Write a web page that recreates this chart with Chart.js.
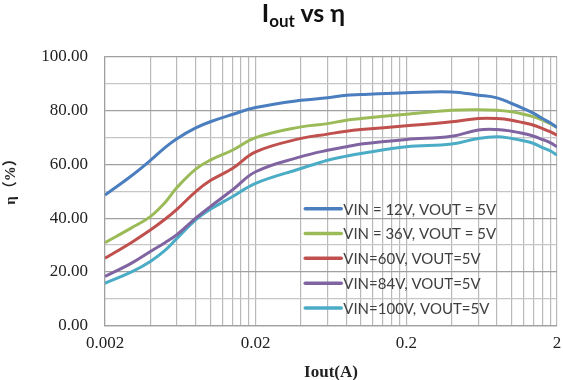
<!DOCTYPE html>
<html><head><meta charset="utf-8">
<script src="https://cdn.jsdelivr.net/npm/chart.js@4.4.1/dist/chart.umd.min.js"></script>
<style>
html,body{margin:0;padding:0;background:#fff;}
#wrap{position:relative;width:563px;height:380px;overflow:hidden;}
canvas{position:absolute;left:0;top:0;}
#title{position:absolute;left:0;width:607px;top:-3px;text-align:center;font-family:Lato,sans-serif;font-weight:bold;font-size:25px;line-height:30px;color:#111;}
#title sub{font-size:17px;vertical-align:-5px;line-height:0;}
</style></head><body>
<div id="wrap"><canvas id="c" width="563" height="380"></canvas><div id="title">I<sub>out</sub> vs η</div></div>
<script>
const xValues = [0.002, 0.003, 0.004, 0.005, 0.006, 0.008, 0.01, 0.014, 0.02, 0.04, 0.06, 0.08, 0.1, 0.2, 0.4, 0.6, 0.8, 1.0, 1.2, 1.4, 1.6, 1.8, 2.0];
const vin12  = [48.6, 55.8, 61.5, 66.3, 69.6, 73.6, 75.9, 78.6, 81.2, 83.9, 84.8, 85.8, 86.0, 86.7, 87.0, 85.8, 84.8, 82.7, 80.8, 79.0, 77.1, 75.5, 73.8];
const vin36  = [30.9, 36.4, 40.6, 45.8, 51.4, 58.3, 61.6, 65.3, 70.0, 74.0, 75.2, 76.5, 77.1, 78.7, 80.2, 80.4, 80.2, 79.6, 78.7, 77.7, 76.5, 75.2, 73.8];
const vin60  = [25.1, 31.0, 35.6, 39.6, 43.3, 49.9, 54.0, 58.5, 64.7, 69.7, 71.3, 72.4, 73.0, 74.4, 75.9, 77.1, 77.1, 76.5, 75.5, 74.6, 73.4, 72.2, 70.9];
const vin84  = [18.3, 23.3, 27.6, 30.9, 33.9, 40.0, 44.3, 50.5, 57.3, 62.9, 65.3, 66.6, 67.6, 69.3, 70.5, 72.8, 73.0, 72.4, 71.5, 70.5, 69.3, 68.1, 66.6];
const vin100 = [15.8, 20.0, 23.9, 28.0, 32.5, 39.4, 43.3, 48.0, 53.0, 58.5, 61.6, 63.1, 64.1, 66.6, 67.6, 69.7, 70.3, 69.7, 68.8, 67.8, 66.3, 65.1, 63.5];
const seriesLabels = ['VIN = 12V, VOUT = 5V', 'VIN = 36V, VOUT = 5V', 'VIN=60V, VOUT=5V', 'VIN=84V, VOUT=5V', 'VIN=100V, VOUT=5V'];
const seriesColors = ['#4A7EBF', '#9BBB59', '#C0504D', '#8064A2', '#4BACC6'];
const xMajorTicks = [0.002, 0.02, 0.2, 2];
const xTickLabels = ['0.002', '0.02', '0.2', '2'];
const yTickStep = 10;
const yLabelStep = 20;
const titleX = 'Iout(A)';
const titleY = 'η（%）';

const allSeries = [vin12, vin36, vin60, vin84, vin100];
const xGrid = [];
xMajorTicks.forEach((m, i) => {
  if (i === xMajorTicks.length - 1) { xGrid.push(m); return; }
  for (let k = 1; k <= 9; k++) xGrid.push(+(m * k).toPrecision(6));
});
function xLabel(v) {
  for (let i = 0; i < xMajorTicks.length; i++) {
    if (Math.abs(v / xMajorTicks[i] - 1) < 1e-6) return xTickLabels[i];
  }
  return '';
}

const legendPlugin = {
  id: 'inLegend',
  afterDatasetsDraw(chart) {
    const ca = chart.chartArea, ctx = chart.ctx;
    const w = ca.right - ca.left, h = ca.bottom - ca.top;
    const lx = ca.left + w * 0.443;
    const y0 = ca.top + h * 0.565;
    const dy = h * 0.0922;
    ctx.save();
    chart.data.datasets.forEach((ds, i) => {
      const y = y0 + i * dy;
      ctx.strokeStyle = ds.borderColor;
      ctx.lineWidth = 3.5;
      ctx.lineCap = 'round';
      ctx.beginPath(); ctx.moveTo(lx, y); ctx.lineTo(lx + 36, y); ctx.stroke();
      ctx.fillStyle = '#404040';
      ctx.font = '15px Lato, sans-serif';
      ctx.textBaseline = 'middle';
      ctx.textAlign = 'left';
      ctx.fillText(ds.label, lx + 38, y + 1);
    });
    ctx.restore();
  }
};
const yTitlePlugin = {
  id: 'yTitle',
  afterDraw(chart) {
    const ctx = chart.ctx;
    ctx.save();
    ctx.translate(11, 178);
    ctx.rotate(-Math.PI / 2);
    ctx.font = "bold 15px 'Liberation Serif', 'Noto Sans CJK SC'";
    ctx.fillStyle = '#222';
    ctx.textAlign = 'center';
    ctx.textBaseline = 'middle';
    ctx.fillText(titleY, 0, 0);
    ctx.restore();
  }
};

new Chart(document.getElementById('c'), {
  type: 'line',
  data: {
    datasets: allSeries.map((s, i) => ({
      label: seriesLabels[i],
      data: xValues.map((x, j) => ({ x: x, y: s[j] })),
      borderColor: seriesColors[i],
      backgroundColor: seriesColors[i],
      borderWidth: 3,
      pointRadius: 0,
      tension: 0.4,
      fill: false
    }))
  },
  options: {
    responsive: false,
    animation: false,
    layout: { padding: { left: 0, right: 6, top: 57, bottom: 0 } },
    plugins: { legend: { display: false }, title: { display: false }, tooltip: { enabled: false } },
    scales: {
      x: {
        type: 'logarithmic', min: 0.002, max: 2,
        afterBuildTicks: s => { s.ticks = xGrid.map(v => ({ value: v })); },
        afterFit: s => { s.height = 54.3; s.paddingLeft = 0; s.paddingRight = 0; },
        ticks: { autoSkip: false, maxRotation: 0, padding: 8, color: '#222',
          font: { family: "'Liberation Serif', serif", size: 17 }, callback: v => xLabel(v) },
        grid: { color: '#B9B9B9', lineWidth: 1.2, drawTicks: false },
        border: { color: '#A0A0A0', width: 1.2 },
        title: { display: true, text: titleX, color: '#222', padding: { top: 0, bottom: -3 },
          font: { family: "'Liberation Serif', serif", size: 17, weight: 'bold' } }
      },
      y: {
        min: 0, max: 100,
        afterFit: s => { s.width = 105; },
        ticks: { stepSize: yTickStep, padding: 17, color: '#222',
          font: { family: "'Liberation Serif', serif", size: 17 },
          callback: v => (v % yLabelStep === 0 ? v.toFixed(2) : '') },
        grid: { color: c => (c.tick && c.tick.value % yLabelStep === 0 ? '#A0A0A0' : '#C6C6C6'), lineWidth: 1.2, drawTicks: false },
        border: { color: '#A0A0A0', width: 1.2 }
      }
    }
  },
  plugins: [legendPlugin, yTitlePlugin]
});
</script>
</body></html>
